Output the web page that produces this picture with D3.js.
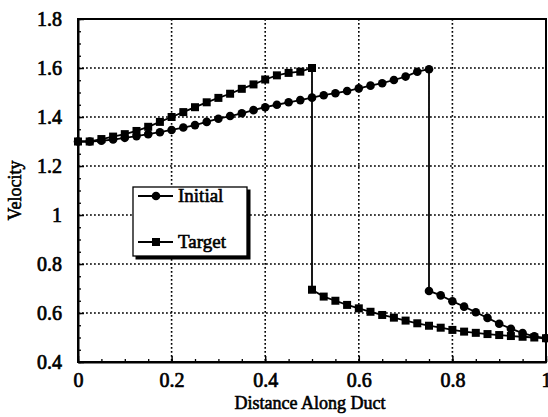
<!DOCTYPE html>
<html>
<head>
<meta charset="utf-8">
<script src="https://cdn.jsdelivr.net/npm/d3@7"></script>
<style>
  body { margin: 0; background: #fff; }
  svg { display: block; font-family: "Liberation Serif", "DejaVu Serif", serif; }
</style>
</head>
<body>
<div id="chart"></div>
<script>
// distance along duct (x) and velocity values
const initialX = [0, 0.025, 0.05, 0.075, 0.1, 0.125, 0.15, 0.175, 0.2, 0.225, 0.25, 0.275, 0.3, 0.325, 0.35, 0.375, 0.4,
  0.425, 0.45, 0.475, 0.5, 0.525, 0.55, 0.575, 0.6, 0.625, 0.65, 0.675, 0.7, 0.725, 0.75,
  0.75, 0.775, 0.8, 0.825, 0.85, 0.875, 0.9, 0.925, 0.95, 0.975, 1];
const initialV = [1.300, 1.300, 1.303, 1.308, 1.315, 1.322, 1.330, 1.338, 1.347, 1.357, 1.367, 1.380, 1.393, 1.404, 1.415, 1.428, 1.440,
  1.450, 1.460, 1.469, 1.479, 1.489, 1.497, 1.506, 1.517, 1.528, 1.538, 1.551, 1.565, 1.585, 1.595,
  0.690, 0.672, 0.648, 0.626, 0.603, 0.580, 0.556, 0.536, 0.518, 0.505, 0.497];

const targetX = [0, 0.025, 0.05, 0.075, 0.1, 0.125, 0.15, 0.175, 0.2, 0.225, 0.25, 0.275, 0.3, 0.325, 0.35, 0.375, 0.4,
  0.425, 0.45, 0.475, 0.5,
  0.5, 0.525, 0.55, 0.575, 0.6, 0.625, 0.65, 0.675, 0.7, 0.725, 0.75, 0.775, 0.8, 0.825, 0.85, 0.875, 0.9,
  0.925, 0.95, 0.975, 1];
const targetV = [1.300, 1.300, 1.310, 1.320, 1.330, 1.343, 1.360, 1.380, 1.400, 1.420, 1.440, 1.460, 1.478, 1.495, 1.515, 1.533, 1.553,
  1.570, 1.580, 1.585, 1.600,
  0.695, 0.667, 0.650, 0.633, 0.619, 0.605, 0.592, 0.581, 0.569, 0.558, 0.548, 0.540, 0.531, 0.524, 0.519, 0.514, 0.510,
  0.506, 0.503, 0.500, 0.497];

const xTicks = [0, 0.2, 0.4, 0.6, 0.8, 1];
const xTickLabels = ["0", "0.2", "0.4", "0.6", "0.8", "1"];
const yTicks = [0.4, 0.6, 0.8, 1, 1.2, 1.4, 1.6, 1.8];
const yTickLabels = ["0.4", "0.6", "0.8", "1", "1.2", "1.4", "1.6", "1.8"];

const W = 548, H = 417;
const margin = { top: 19, right: 2, bottom: 55, left: 78 };
const width = W - margin.left - margin.right;
const height = H - margin.top - margin.bottom;

const svg = d3.select("#chart").append("svg")
  .attr("width", W).attr("height", H);
svg.append("rect").attr("width", W).attr("height", H).attr("fill", "#fff");

const g = svg.append("g").attr("transform", `translate(${margin.left},${margin.top})`);

const x = d3.scaleLinear().domain([0, 1]).range([0, width]);
const y = d3.scaleLinear().domain([0.4, 1.8]).range([height, 0]);

// dotted grid
g.append("g")
  .selectAll("line")
  .data(xTicks.slice(1, -1))
  .join("line")
  .attr("x1", d => x(d)).attr("x2", d => x(d))
  .attr("y1", 0).attr("y2", height)
  .attr("stroke", "#000").attr("stroke-width", 1.6)
  .attr("stroke-dasharray", "1.8 2.2");

g.append("g")
  .selectAll("line")
  .data(yTicks.slice(1, -1))
  .join("line")
  .attr("y1", d => y(d)).attr("y2", d => y(d))
  .attr("x1", 0).attr("x2", width)
  .attr("stroke", "#000").attr("stroke-width", 1.6)
  .attr("stroke-dasharray", "1.8 2.2");

// minor ticks (inward)
const xMinor = x.ticks(20);
const yMinor = y.ticks(28);
g.append("g")
  .attr("transform", `translate(0,${height})`)
  .call(d3.axisBottom(x).tickValues(xMinor).tickSize(-3).tickFormat(""))
  .call(a => a.select(".domain").remove())
  .selectAll("line").attr("stroke-width", 1.3);
g.append("g")
  .call(d3.axisLeft(y).tickValues(yMinor).tickSize(-3).tickFormat(""))
  .call(a => a.select(".domain").remove())
  .selectAll("line").attr("stroke-width", 1.3);

// major axes
const xAxis = g.append("g")
  .attr("transform", `translate(0,${height})`)
  .call(d3.axisBottom(x).tickValues(xTicks).tickSizeInner(-6).tickSizeOuter(0).tickPadding(11)
    .tickFormat((d, i) => xTickLabels[i]));
const yAxis = g.append("g")
  .call(d3.axisLeft(y).tickValues(yTicks).tickSizeInner(-6).tickSizeOuter(0).tickPadding(16)
    .tickFormat((d, i) => yTickLabels[i]));

[xAxis, yAxis].forEach(a => {
  a.select(".domain").attr("stroke-width", 2);
  a.selectAll(".tick line").attr("stroke-width", 1.5);
  a.selectAll("text")
    .style("font-family", "'Liberation Serif', serif")
    .style("font-size", "20px")
    .attr("fill", "#000")
    .attr("stroke", "#000").attr("stroke-width", 0.7);
});

// frame top/right
g.append("rect")
  .attr("width", width).attr("height", height)
  .attr("fill", "none").attr("stroke", "#000").attr("stroke-width", 2);

// series
const line = d3.line().x(d => x(d[0])).y(d => y(d[1]));
const initialData = initialX.map((d, i) => [d, initialV[i]]);
const targetData = targetX.map((d, i) => [d, targetV[i]]);

[initialData, targetData].forEach(data => {
  g.append("path").datum(data)
    .attr("fill", "none").attr("stroke", "#000").attr("stroke-width", 1.8)
    .attr("d", line);
});

g.append("g").selectAll("rect")
  .data(targetData)
  .join("rect")
  .attr("x", d => x(d[0]) - 4).attr("y", d => y(d[1]) - 4)
  .attr("width", 8).attr("height", 8)
  .attr("fill", "#000");

g.append("g").selectAll("circle")
  .data(initialData)
  .join("circle")
  .attr("cx", d => x(d[0])).attr("cy", d => y(d[1]))
  .attr("r", 4.3)
  .attr("fill", "#000");

// axis titles
svg.append("text")
  .attr("x", margin.left + width / 2 - 2).attr("y", 409)
  .attr("text-anchor", "middle")
  .style("font-size", "18px")
  .attr("stroke", "#000").attr("stroke-width", 0.6)
  .text("Distance Along Duct");

svg.append("text")
  .attr("transform", `translate(21,${margin.top + height / 2}) rotate(-90)`)
  .attr("text-anchor", "middle")
  .style("font-size", "18px")
  .attr("stroke", "#000").attr("stroke-width", 0.6)
  .text("Velocity");

// legend
const legend = svg.append("g").attr("transform", "translate(133,187)");
legend.append("rect")
  .attr("x", 2.5).attr("y", 2.5).attr("width", 115).attr("height", 70)
  .attr("fill", "#000");
legend.append("rect")
  .attr("width", 114).attr("height", 69)
  .attr("fill", "#fff").attr("stroke", "#000").attr("stroke-width", 1.3);

const items = [
  { label: "Initial", ly: 9, mark: "circle" },
  { label: "Target", ly: 55, mark: "square" }
];
items.forEach(it => {
  legend.append("line")
    .attr("x1", 5).attr("x2", 40).attr("y1", it.ly).attr("y2", it.ly)
    .attr("stroke", "#000").attr("stroke-width", 1.8);
  if (it.mark === "circle") {
    legend.append("circle").attr("cx", 23).attr("cy", it.ly).attr("r", 4.3).attr("fill", "#000");
  } else {
    legend.append("rect").attr("x", 19).attr("y", it.ly - 4).attr("width", 8).attr("height", 8).attr("fill", "#000");
  }
  legend.append("text")
    .attr("x", 45).attr("y", it.ly + 6)
    .style("font-size", "19px")
    .attr("stroke", "#000").attr("stroke-width", 0.6)
    .text(it.label);
});
</script>
</body>
</html>
